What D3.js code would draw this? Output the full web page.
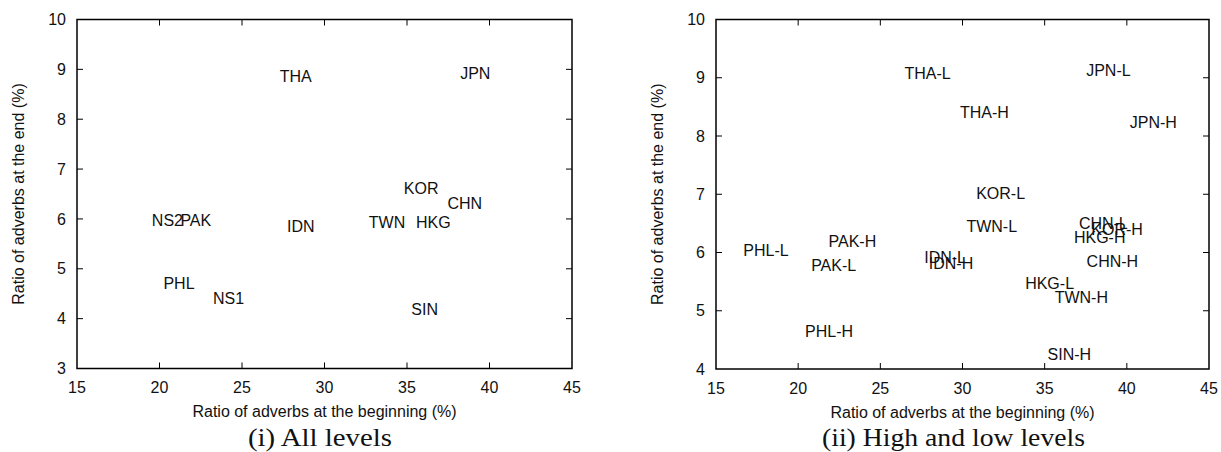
<!DOCTYPE html>
<html>
<head>
<meta charset="utf-8">
<script src="https://cdn.jsdelivr.net/npm/d3@7"></script>
<style>
  body { margin: 0; background: #fff; }
  svg { display: block; }
  text { font-family: "Liberation Sans", Arial, sans-serif; fill: #111; }
</style>
</head>
<body>
<div id="chart"></div>
<script>
// (i) all levels
const leftLabels = ["THA", "JPN", "KOR", "CHN", "TWN", "HKG", "IDN", "NS2", "PAK", "PHL", "NS1", "SIN"];
const leftX = [28.26, 39.14, 35.86, 38.5, 33.79, 36.6, 28.56, 20.48, 22.2, 21.18, 24.19, 36.07];
const leftY = [8.85, 8.91, 6.62, 6.32, 5.93, 5.94, 5.85, 5.97, 5.97, 4.71, 4.41, 4.18];

// (ii) high and low levels
const rightLabels = ["THA-L", "JPN-L", "THA-H", "JPN-H", "KOR-L", "TWN-L", "CHN-L", "KOR-H", "HKG-H",
  "CHN-H", "IDN-L", "IDN-H", "HKG-L", "TWN-H", "SIN-H", "PHL-L", "PAK-H", "PAK-L", "PHL-H"];
const rightX = [27.87, 38.88, 31.33, 41.61, 32.32, 31.78, 38.57, 39.41, 38.35,
  39.12, 28.94, 29.3, 35.3, 37.23, 36.5, 18.04, 23.3, 22.16, 21.88];
const rightY = [9.08, 9.12, 8.41, 8.24, 7.02, 6.45, 6.5, 6.4, 6.26,
  5.85, 5.91, 5.82, 5.47, 5.23, 4.25, 6.03, 6.19, 5.77, 4.64];

const xTicks = [15, 20, 25, 30, 35, 40, 45];
const leftYTicks = [3, 4, 5, 6, 7, 8, 9, 10];
const rightYTicks = [4, 5, 6, 7, 8, 9, 10];

const xTitle = "Ratio of adverbs at the beginning (%)";
const yTitle = "Ratio of adverbs at the end (%)";

const W = 1221, H = 452;
const svg = d3.select("#chart").append("svg")
  .attr("width", W)
  .attr("height", H);

function panel(opts) {
  const { left, right, top, bottom, yDomain, yTicks, labels, xs, ys, caption, captionX, captionW } = opts;
  const x = d3.scaleLinear().domain([15, 45]).range([left, right]);
  const y = d3.scaleLinear().domain(yDomain).range([bottom, top]);
  const g = svg.append("g");

  // frame
  g.append("rect")
    .attr("x", left).attr("y", top)
    .attr("width", right - left).attr("height", bottom - top)
    .attr("fill", "none").attr("stroke", "#000").attr("stroke-width", 1.5);

  // ticks (inward, on all four sides)
  const inner = xTicks.slice(1, -1);
  const innerY = yTicks.slice(1, -1);
  g.selectAll(".tb").data(inner).join("line")
    .attr("x1", d => x(d)).attr("x2", d => x(d))
    .attr("y1", bottom).attr("y2", bottom - 6)
    .attr("stroke", "#000").attr("stroke-width", 1);
  g.selectAll(".tt").data(inner).join("line")
    .attr("x1", d => x(d)).attr("x2", d => x(d))
    .attr("y1", top).attr("y2", top + 6)
    .attr("stroke", "#000").attr("stroke-width", 1);
  g.selectAll(".tl").data(innerY).join("line")
    .attr("x1", left).attr("x2", left + 6)
    .attr("y1", d => y(d)).attr("y2", d => y(d))
    .attr("stroke", "#000").attr("stroke-width", 1);
  g.selectAll(".tr").data(innerY).join("line")
    .attr("x1", right).attr("x2", right - 6)
    .attr("y1", d => y(d)).attr("y2", d => y(d))
    .attr("stroke", "#000").attr("stroke-width", 1);

  // tick labels
  g.selectAll(".xl").data(xTicks).join("text")
    .attr("x", d => x(d)).attr("y", bottom + 19)
    .attr("dy", "0.35em")
    .attr("text-anchor", "middle")
    .style("font-size", "16px")
    .text(d => d);
  g.selectAll(".yl").data(yTicks).join("text")
    .attr("x", left - 11).attr("y", d => y(d))
    .attr("dy", "0.35em")
    .attr("text-anchor", "end")
    .style("font-size", "16px")
    .text(d => d);

  // axis titles
  g.append("text")
    .attr("x", (left + right) / 2).attr("y", bottom + 43)
    .attr("dy", "0.35em")
    .attr("text-anchor", "middle")
    .style("font-size", "16px")
    .text(xTitle);
  g.append("text")
    .attr("transform", `translate(${left - 59},${(top + bottom) / 2}) rotate(-90)`)
    .attr("dy", "0.35em")
    .attr("text-anchor", "middle")
    .style("font-size", "16px")
    .text(yTitle);

  // point labels
  g.selectAll(".pt").data(labels).join("text")
    .attr("x", (d, i) => x(xs[i]))
    .attr("y", (d, i) => y(ys[i]))
    .attr("dy", "0.35em")
    .attr("text-anchor", "middle")
    .style("font-size", "16px")
    .text(d => d);

  // caption
  g.append("text")
    .attr("x", captionX).attr("y", 446)
    .attr("text-anchor", "middle")
    .attr("textLength", captionW)
    .attr("lengthAdjust", "spacingAndGlyphs")
    .style("font-family", "'Liberation Serif', 'Times New Roman', serif")
    .style("font-size", "25px")
    .text(caption);
}

panel({
  left: 77, right: 572, top: 19.5, bottom: 368.5,
  yDomain: [3, 10], yTicks: leftYTicks,
  labels: leftLabels, xs: leftX, ys: leftY,
  caption: "(i) All levels", captionX: 320, captionW: 144
});

panel({
  left: 716, right: 1209, top: 19.5, bottom: 369,
  yDomain: [4, 10], yTicks: rightYTicks,
  labels: rightLabels, xs: rightX, ys: rightY,
  caption: "(ii) High and low levels", captionX: 953.5, captionW: 263
});
</script>
</body>
</html>
